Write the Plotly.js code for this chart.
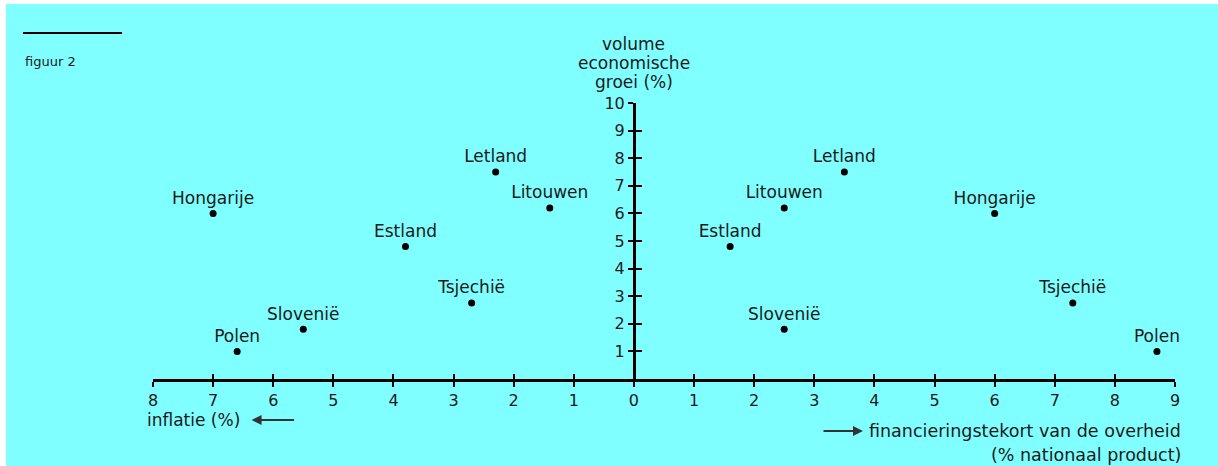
<!DOCTYPE html>
<html>
<head>
<meta charset="utf-8">
<script src="https://cdn.plot.ly/plotly-3.0.1.min.js"></script>
<style>
  html, body { margin: 0; padding: 0; background: #ffffff; }
  #chart { position: absolute; left: 6px; top: 4px; width: 1212px; height: 462px; }
</style>
</head>
<body>
<div id="chart"></div>
<script>
// ---- data ----
const countries = ["Hongarije", "Letland", "Litouwen", "Estland", "Tsjechië", "Slovenië", "Polen"];
const growth    = [6.0, 7.5, 6.2, 4.8, 2.75, 1.8, 1.0];          // volume economische groei (%)
const inflation = [7.0, 2.3, 1.4, 3.8, 2.7, 5.5, 6.6];           // inflatie (%)  (left half)
const deficit   = [6.0, 3.5, 2.5, 1.6, 7.3, 2.5, 8.7];           // financieringstekort (% nationaal product) (right half)
const xTickVals = [-8, -7, -6, -5, -4, -3, -2, -1, 0, 1, 2, 3, 4, 5, 6, 7, 8, 9];
const xTickText = ["8", "7", "6", "5", "4", "3", "2", "1", "0", "1", "2", "3", "4", "5", "6", "7", "8", "9"];
const yTickVals = [1, 2, 3, 4, 5, 6, 7, 8, 9, 10];
const yTickText = ["1", "2", "3", "4", "5", "6", "7", "8", "9", "10"];

const FONT = "DejaVu Sans, Arial, sans-serif";
const TXT = "#1a1a1a";
const LBL = 17;

const leftTrace = {
  type: "scatter", mode: "markers+text",
  x: inflation.map(v => -v), y: growth, text: countries,
  textposition: "top center",
  textfont: { family: FONT, size: LBL, color: TXT },
  marker: { color: "#000", size: 7 },
  cliponaxis: false, hoverinfo: "skip", xaxis: "x", yaxis: "y"
};
const rightTrace = {
  type: "scatter", mode: "markers+text",
  x: deficit, y: growth, text: countries,
  textposition: "top center",
  textfont: { family: FONT, size: LBL, color: TXT },
  marker: { color: "#000", size: 7 },
  cliponaxis: false, hoverinfo: "skip", xaxis: "x2", yaxis: "y2"
};

const axFont = { family: FONT, size: 16, color: TXT };
const layout = {
  width: 1212, height: 462,
  margin: { l: 147, r: 43, t: 99, b: 87 },
  paper_bgcolor: "#7fffff", plot_bgcolor: "rgba(0,0,0,0)",
  showlegend: false,
  font: { family: FONT, color: TXT },
  xaxis: {
    range: [-8, 9], tickmode: "array", tickvals: xTickVals, ticktext: xTickText,
    showline: true, linewidth: 3, linecolor: "#000",
    ticks: "outside", ticklen: 5, tickwidth: 2, tickcolor: "#000",
    tickfont: axFont, showgrid: false, zeroline: false, fixedrange: true
  },
  xaxis2: {
    overlaying: "x", anchor: "y2", range: [-8, 9], tickmode: "array", tickvals: xTickVals,
    showticklabels: false, showline: false, ticks: "inside", ticklen: 5, tickwidth: 2, tickcolor: "#000",
    showgrid: false, zeroline: false, fixedrange: true
  },
  yaxis: {
    range: [0, 10], anchor: "free", position: 8 / 17,
    tickmode: "array", tickvals: yTickVals, ticktext: yTickText,
    showline: true, linewidth: 3, linecolor: "#000",
    ticks: "outside", ticklen: 5, tickwidth: 2, tickcolor: "#000",
    tickfont: axFont, showgrid: false, zeroline: false, fixedrange: true
  },
  yaxis2: {
    overlaying: "y", anchor: "free", position: 8 / 17, range: [0, 10],
    tickmode: "array", tickvals: yTickVals, showticklabels: false, showline: false,
    ticks: "inside", ticklen: 7, tickwidth: 2, tickcolor: "#000",
    showgrid: false, zeroline: false, fixedrange: true
  },
  shapes: [
    { type: "line", xref: "paper", yref: "paper", x0: -0.1272, x1: -0.0303, y0: 1.2536, y1: 1.2536,
      line: { color: "#000", width: 2 } }
  ],
  annotations: [
    { text: "figuur 2", xref: "paper", yref: "paper", x: -0.1272, y: 1.1486, xanchor: "left", yanchor: "middle",
      showarrow: false, font: { family: FONT, size: 13, color: TXT } },
    { text: "volume", xref: "x", yref: "paper", x: 0, y: 1.2138, xanchor: "center", yanchor: "middle",
      showarrow: false, font: { family: FONT, size: 17, color: TXT } },
    { text: "economische", xref: "x", yref: "paper", x: 0, y: 1.1449, xanchor: "center", yanchor: "middle",
      showarrow: false, font: { family: FONT, size: 17, color: TXT } },
    { text: "groei (%)", xref: "x", yref: "paper", x: 0, y: 1.0761, xanchor: "center", yanchor: "middle",
      showarrow: false, font: { family: FONT, size: 17, color: TXT } },
    { text: "inflatie (%)", xref: "paper", yref: "paper", x: -0.0078, y: -0.1486, xanchor: "left", yanchor: "middle",
      showarrow: false, font: { family: FONT, size: 17, color: TXT } },
    { text: "", xref: "x", yref: "paper", x: -6.36, y: -0.1486, showarrow: true, ax: 44, ay: 0,
      arrowhead: 2, arrowsize: 1, arrowwidth: 2, arrowcolor: "#333" },
    { text: "", xref: "x", yref: "paper", x: 3.81, y: -0.1884, showarrow: true, ax: -41, ay: 0,
      arrowhead: 2, arrowsize: 1, arrowwidth: 2, arrowcolor: "#333" },
    { text: "financieringstekort van de overheid", xref: "paper", yref: "paper", x: 1.0078, y: -0.1884,
      xanchor: "right", yanchor: "middle", showarrow: false, font: { family: FONT, size: 17.5, color: TXT } },
    { text: "(% nationaal product)", xref: "paper", yref: "paper", x: 1.0078, y: -0.2754,
      xanchor: "right", yanchor: "middle", showarrow: false, font: { family: FONT, size: 17.5, color: TXT } }
  ]
};

Plotly.newPlot("chart", [leftTrace, rightTrace], layout, { displayModeBar: false, staticPlot: true });
</script>
</body>
</html>
